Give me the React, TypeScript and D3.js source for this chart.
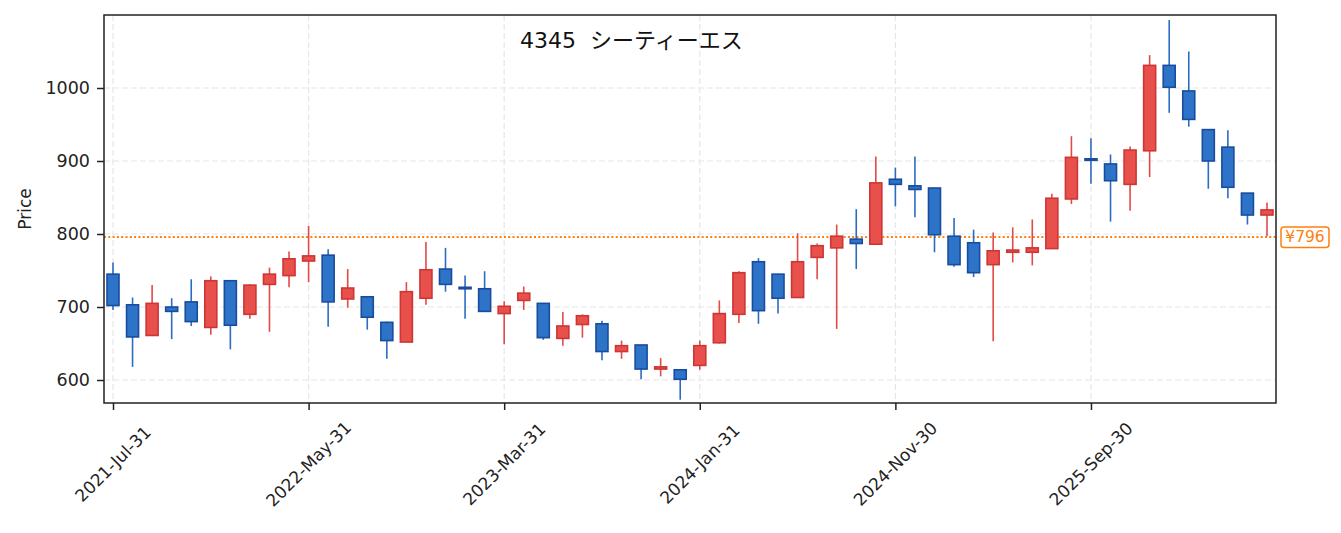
import { useEffect, useRef } from 'react';
import * as d3 from 'd3';

// monthly candles, 2021-07 .. 2026-06
const opens = [
  745, 703, 661, 700, 707, 672, 736, 690, 731, 743,
  763, 771, 711, 714, 679, 652, 712, 752, 727, 725,
  691, 709, 705, 657, 676, 677, 639, 648, 615, 614,
  620, 651, 690, 762, 745, 713, 768, 781, 793, 786,
  875, 866, 863, 797, 788, 758, 775, 775, 780, 848,
  903, 896, 868, 914, 1031, 996, 943, 919, 856, 826,
];
const highs = [
  761, 713, 730, 712, 738, 742, 737, 731, 754, 776,
  811, 779, 752, 714, 680, 734, 789, 781, 743, 749,
  708, 728, 705, 693, 690, 681, 654, 648, 630, 614,
  654, 709, 749, 767, 745, 801, 787, 813, 834, 906,
  891, 906, 863, 822, 806, 802, 809, 820, 855, 934,
  931, 909, 920, 1045, 1093, 1050, 943, 942, 856, 843,
];
const lows = [
  696, 618, 661, 656, 674, 662, 642, 684, 666, 727,
  734, 673, 699, 669, 629, 652, 703, 721, 684, 694,
  649, 696, 655, 647, 658, 627, 629, 601, 605, 573,
  614, 650, 678, 677, 691, 713, 738, 670, 752, 786,
  838, 823, 775, 755, 741, 653, 761, 757, 780, 841,
  869, 817, 832, 878, 966, 947, 862, 849, 813, 797,
];
const closes = [
  702, 659, 705, 694, 680, 736, 675, 730, 745, 766,
  770, 707, 726, 686, 654, 721, 751, 731, 725, 694,
  701, 719, 658, 674, 688, 639, 647, 615, 618, 601,
  647, 691, 747, 695, 712, 762, 784, 797, 787, 870,
  868, 861, 799, 758, 747, 777, 778, 781, 849, 905,
  901, 873, 915, 1031, 1001, 957, 900, 864, 826, 833,
];

const tickIndex = [0, 10, 20, 30, 40, 50];
const tickLabels = ['2021-Jul-31', '2022-May-31', '2023-Mar-31', '2024-Jan-31', '2024-Nov-30', '2025-Sep-30'];
const yTicks = [600, 700, 800, 900, 1000];
const lastPrice = 796;
const title = '4345  シーティーエス';

const W = 1341;
const H = 533;
const FONT = '"DejaVu Sans", "Noto Sans CJK JP", sans-serif';

export default function App() {
  const ref = useRef<SVGSVGElement | null>(null);

  useEffect(() => {
    const svg = d3.select(ref.current);
    svg.selectAll('*').remove();

    const left = 104, right = 1276, top = 15, bottom = 403;
    const n = opens.length;

    const x = d3.scaleLinear().domain([-0.46, n - 1 + 0.46]).range([left, right]);
    const y = d3.scaleLinear().domain([568.5, 1100]).range([bottom, top]);

    // grid
    const grid = svg.append('g');
    grid.selectAll('line.gy')
      .data(yTicks)
      .enter().append('line')
      .attr('x1', left).attr('x2', right)
      .attr('y1', d => y(d)).attr('y2', d => y(d))
      .attr('stroke', '#e6e6e6').attr('stroke-width', 1.2)
      .attr('stroke-dasharray', '6,3');
    grid.selectAll('line.gx')
      .data(tickIndex)
      .enter().append('line')
      .attr('x1', d => x(d)).attr('x2', d => x(d))
      .attr('y1', top).attr('y2', bottom)
      .attr('stroke', '#e6e6e6').attr('stroke-width', 1.2)
      .attr('stroke-dasharray', '6,3');

    // last price line
    svg.append('line')
      .attr('x1', left).attr('x2', right)
      .attr('y1', y(lastPrice)).attr('y2', y(lastPrice))
      .attr('stroke', '#ff7f0e').attr('stroke-width', 2)
      .attr('stroke-dasharray', '2,2.3');

    // candles
    const idx = d3.range(n);
    const up = (i: number) => closes[i] >= opens[i];
    const bw = 12;

    svg.append('g').selectAll('line')
      .data(idx)
      .enter().append('line')
      .attr('x1', i => x(i)).attr('x2', i => x(i))
      .attr('y1', i => y(highs[i])).attr('y2', i => y(lows[i]))
      .attr('stroke', i => up(i) ? '#e24a45' : '#2a6cc2')
      .attr('stroke-width', 1.6);

    svg.append('g').selectAll('rect')
      .data(idx)
      .enter().append('rect')
      .attr('x', i => x(i) - bw / 2)
      .attr('width', bw)
      .attr('y', i => y(Math.max(opens[i], closes[i])))
      .attr('height', i => Math.max(1.5, Math.abs(y(opens[i]) - y(closes[i]))))
      .attr('fill', i => up(i) ? '#e8504c' : '#2d73c8')
      .attr('stroke', i => up(i) ? '#cf3535' : '#1a4c9e')
      .attr('stroke-width', 1.6);

    // frame
    svg.append('rect')
      .attr('x', left).attr('y', top)
      .attr('width', right - left).attr('height', bottom - top)
      .attr('fill', 'none').attr('stroke', '#222').attr('stroke-width', 1.5);

    // x axis
    const xAxis = svg.append('g')
      .attr('transform', `translate(0,${bottom})`)
      .call(d3.axisBottom(x).tickValues(tickIndex).tickSize(7).tickFormat(() => ''));
    xAxis.select('.domain').remove();
    xAxis.selectAll('.tick line').attr('stroke', '#222').attr('stroke-width', 1.5);

    svg.append('g').selectAll('text')
      .data(tickIndex)
      .enter().append('text')
      .attr('transform', (d) => `translate(${x(d)},${464}) rotate(-45)`)
      .attr('text-anchor', 'middle')
      .attr('dominant-baseline', 'central')
      .attr('font-family', FONT)
      .attr('font-size', 17)
      .attr('fill', '#222')
      .text((d, i) => tickLabels[i]);

    // y axis
    const yAxis = svg.append('g')
      .attr('transform', `translate(${left},0)`)
      .call(d3.axisLeft(y).tickValues(yTicks).tickSize(7).tickPadding(7).tickFormat(d3.format('d')));
    yAxis.select('.domain').remove();
    yAxis.selectAll('.tick line').attr('stroke', '#222').attr('stroke-width', 1.5);
    yAxis.selectAll('.tick text')
      .attr('font-family', FONT)
      .attr('font-size', 17.5)
      .attr('fill', '#222');

    svg.append('text')
      .attr('transform', `translate(31,${(top + bottom) / 2}) rotate(-90)`)
      .attr('text-anchor', 'middle')
      .attr('font-family', FONT)
      .attr('font-size', 17)
      .attr('fill', '#222')
      .text('Price');

    // title
    svg.append('text')
      .attr('x', 520).attr('y', 48)
      .attr('font-family', FONT)
      .attr('font-size', 22)
      .attr('fill', '#111')
      .style('white-space', 'pre')
      .text(title);

    // last price tag
    const tag = svg.append('g').attr('transform', `translate(1281,${y(lastPrice)})`);
    tag.append('rect')
      .attr('x', 0).attr('y', -10)
      .attr('width', 48).attr('height', 20.5)
      .attr('rx', 3)
      .attr('fill', '#fff').attr('stroke', '#ff7f0e').attr('stroke-width', 1.5);
    tag.append('text')
      .attr('x', 24).attr('y', 0.5)
      .attr('text-anchor', 'middle')
      .attr('dominant-baseline', 'central')
      .attr('font-family', FONT)
      .attr('font-size', 15.5)
      .attr('fill', '#ff7f0e')
      .text(`¥${lastPrice}`);
  }, []);

  return (
    <svg
      ref={ref}
      width={W}
      height={H}
      style={{ position: 'absolute', left: 0, top: 0, background: '#fff' }}
    />
  );
}
